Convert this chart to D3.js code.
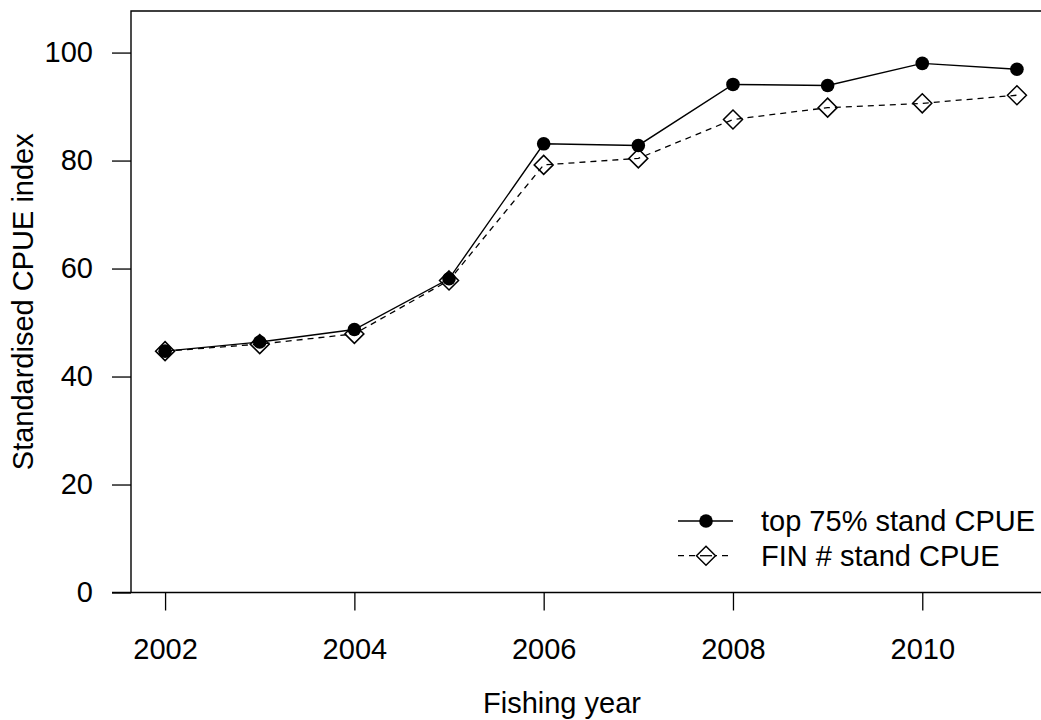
<!DOCTYPE html>
<html>
<head>
<meta charset="utf-8">
<script src="https://cdn.jsdelivr.net/npm/d3@7"></script>
<style>
  html, body { margin: 0; padding: 0; background: #fff; }
  svg { display: block; font-family: "Liberation Sans", Arial, sans-serif; }
</style>
</head>
<body>
<svg id="chart" width="1041" height="720"></svg>
<script>
// Fishing years on the x axis
const years = [2002, 2003, 2004, 2005, 2006, 2007, 2008, 2009, 2010, 2011];
// Standardised CPUE, top 75% of vessels
const top75 = [44.7, 46.4, 48.7, 58.1, 83.1, 82.8, 94.1, 93.9, 98.0, 96.9];
// Standardised CPUE, FIN # model
const finStd = [44.7, 46.0, 47.9, 57.8, 79.2, 80.4, 87.6, 89.8, 90.6, 92.1];
// Axis ticks
const xTicks = [2002, 2004, 2006, 2008, 2010];
const yTicks = [0, 20, 40, 60, 80, 100];
const legendLabels = ["top 75% stand CPUE", "FIN # stand CPUE"];

const svg = d3.select("#chart");
const FS = 29;

const plotL = 131, plotR = 1051, plotT = 11, plotB = 592.5;

const x = d3.scaleLinear().domain([2001.64, 2011.36]).range([plotL, plotR]);
const y = d3.scaleLinear().domain([0, 107.7]).range([plotB, plotT]);

// plot frame: left edge and top edge (right side falls outside the window)
svg.append("path")
  .attr("d", `M${plotL},${plotB}V${plotT}H${plotR}`)
  .attr("fill", "none").attr("stroke", "#000").attr("stroke-width", 1.4);

// x axis
const xAxis = d3.axisBottom(x).tickValues(xTicks).tickFormat(d3.format("d"))
  .tickSize(18).tickPadding(28).tickSizeOuter(0);
const gx = svg.append("g").attr("transform", `translate(0,${plotB})`).call(xAxis);
gx.select(".domain").attr("d", `M${plotL - 19},0H${plotR}`).attr("stroke-width", 1.4);
gx.selectAll(".tick line").attr("stroke-width", 1.3);
gx.selectAll(".tick text").attr("font-size", FS).attr("fill", "#000")
  .attr("font-family", "Liberation Sans, Arial, sans-serif");

// y axis
const yAxis = d3.axisLeft(y).tickValues(yTicks).tickSize(19).tickPadding(19).tickSizeOuter(0);
const gy = svg.append("g").attr("transform", `translate(${plotL},0)`).call(yAxis);
gy.select(".domain").remove();
gy.selectAll(".tick line").attr("stroke-width", 1.3);
gy.selectAll(".tick text").attr("font-size", FS).attr("fill", "#000")
  .attr("font-family", "Liberation Sans, Arial, sans-serif");

// axis titles
svg.append("text")
  .attr("x", 562).attr("y", 713)
  .attr("text-anchor", "middle").attr("font-size", FS)
  .text("Fishing year");
svg.append("text")
  .attr("transform", `translate(33,${(plotT + plotB) / 2}) rotate(-90)`)
  .attr("text-anchor", "middle").attr("font-size", FS)
  .text("Standardised CPUE index");

const line = d3.line().x((d, i) => x(years[i])).y(d => y(d));

// FIN # series: dashed line with open diamonds
svg.append("path").datum(finStd)
  .attr("d", line).attr("fill", "none").attr("stroke", "#000")
  .attr("stroke-width", 1.3).attr("stroke-dasharray", "6,5");

// top 75% series: solid line
svg.append("path").datum(top75)
  .attr("d", line).attr("fill", "none").attr("stroke", "#000")
  .attr("stroke-width", 1.4);

const diamond = r => `M0,${-r}L${r},0L0,${r}L${-r},0Z`;

svg.append("g").selectAll("path").data(finStd).join("path")
  .attr("transform", (d, i) => `translate(${x(years[i])},${y(d)})`)
  .attr("d", diamond(9.5))
  .attr("fill", "none").attr("stroke", "#000").attr("stroke-width", 1.5);

svg.append("g").selectAll("circle").data(top75).join("circle")
  .attr("cx", (d, i) => x(years[i])).attr("cy", d => y(d))
  .attr("r", 6.8).attr("fill", "#000");

// legend
const lg = svg.append("g");
const rows = [521, 555.7];
lg.append("line").attr("x1", 678).attr("x2", 733).attr("y1", rows[0]).attr("y2", rows[0])
  .attr("stroke", "#000").attr("stroke-width", 1.4);
lg.append("circle").attr("cx", 706).attr("cy", rows[0]).attr("r", 6.8).attr("fill", "#000");
lg.append("line").attr("x1", 678).attr("x2", 733).attr("y1", rows[1]).attr("y2", rows[1])
  .attr("stroke", "#000").attr("stroke-width", 1.3).attr("stroke-dasharray", "6,5");
lg.append("path").attr("transform", `translate(706,${rows[1]})`).attr("d", diamond(9.5))
  .attr("fill", "#fff").attr("stroke", "#000").attr("stroke-width", 1.5);
lg.append("line").attr("x1", 700).attr("x2", 712).attr("y1", rows[1]).attr("y2", rows[1])
  .attr("stroke", "#000").attr("stroke-width", 1.3);
lg.selectAll("text").data(legendLabels).join("text")
  .attr("x", 761).attr("y", (d, i) => rows[i]).attr("dy", "0.36em")
  .attr("font-size", FS).text(d => d);
</script>
</body>
</html>
